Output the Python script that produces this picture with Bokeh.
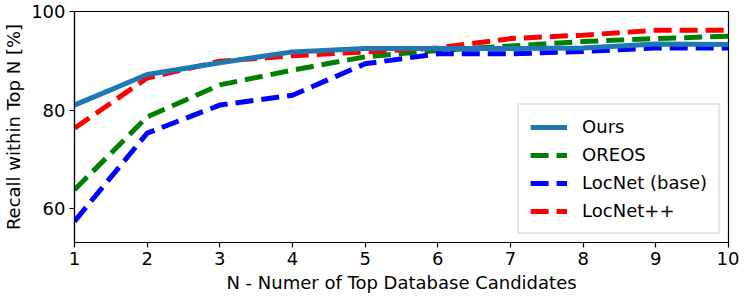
from bokeh.plotting import figure
from bokeh.models import Range1d, FixedTicker, Legend, LegendItem
from bokeh.embed import file_html
from bokeh.resources import INLINE

n_vals = [1, 2, 3, 4, 5, 6, 7, 8, 9, 10]
ours = [81.0, 87.2, 89.6, 91.8, 92.5, 92.5, 92.5, 92.6, 93.4, 93.3]
oreos = [63.8, 78.6, 85.1, 88.1, 90.8, 92.1, 93.0, 93.9, 94.5, 95.0]
locnet_base = [57.4, 75.3, 81.0, 83.0, 89.4, 91.4, 91.4, 91.9, 92.6, 92.6]
locnet_pp = [76.3, 86.5, 89.9, 91.0, 91.8, 92.6, 94.5, 95.2, 96.2, 96.2]
y_ticks = [60, 80, 100]

FONT = "DejaVu Sans"
FS = "18px"

p = figure(width=739, height=298, output_backend="svg", toolbar_location=None,
           x_range=Range1d(1, 10), y_range=Range1d(53.1, 100),
           min_border_left=72, min_border_right=11, min_border_top=11, min_border_bottom=56)

p.xgrid.visible = False
p.ygrid.visible = False
p.outline_line_color = "black"
p.outline_line_width = 1.2
p.outline_line_alpha = 1.0

for ax in (p.xaxis[0], p.yaxis[0]):
    ax.axis_line_color = "black"
    ax.axis_line_width = 1.2
    ax.major_tick_line_color = "black"
    ax.major_tick_line_width = 1.2
    ax.major_tick_out = 5
    ax.major_tick_in = 0
    ax.minor_tick_line_color = None
    ax.major_label_text_font = FONT
    ax.major_label_text_font_size = FS
    ax.major_label_text_color = "black"
    ax.axis_label_text_font = FONT
    ax.axis_label_text_font_size = FS
    ax.axis_label_text_font_style = "normal"
    ax.axis_label_text_color = "black"

p.xaxis.ticker = FixedTicker(ticks=n_vals)
p.yaxis.ticker = FixedTicker(ticks=y_ticks)
p.xaxis.axis_label = "N - Numer of Top Database Candidates"
p.yaxis.axis_label = "Recall within Top N [%]"
p.xaxis.axis_label_standoff = 4
p.yaxis.axis_label_standoff = 4
p.xaxis.major_label_standoff = 4
p.yaxis.major_label_standoff = 4

r_oreos = p.line(n_vals, oreos, line_color="#008000", line_width=5, line_dash="18 8")
r_base = p.line(n_vals, locnet_base, line_color="#0000ff", line_width=5, line_dash="18 8")
r_pp = p.line(n_vals, locnet_pp, line_color="#ff0000", line_width=5, line_dash="18 8")
r_ours = p.line(n_vals, ours, line_color="#1f77b4", line_width=5)

legend = Legend(items=[
    LegendItem(label="Ours", renderers=[r_ours]),
    LegendItem(label="OREOS", renderers=[r_oreos]),
    LegendItem(label="LocNet (base)", renderers=[r_base]),
    LegendItem(label="LocNet++", renderers=[r_pp]),
], location="bottom_right")
legend.margin = 8
legend.padding = 11
legend.spacing = 7
legend.glyph_width = 37
legend.glyph_height = 20
legend.label_height = 20
legend.label_standoff = 15
legend.label_text_font = FONT
legend.label_text_font_size = FS
legend.label_text_color = "black"
legend.border_line_color = "#cccccc"
legend.border_line_width = 2
legend.background_fill_color = "white"
legend.background_fill_alpha = 0.8
p.add_layout(legend, "center")

open("out.html", "w").write(file_html(p, INLINE))
